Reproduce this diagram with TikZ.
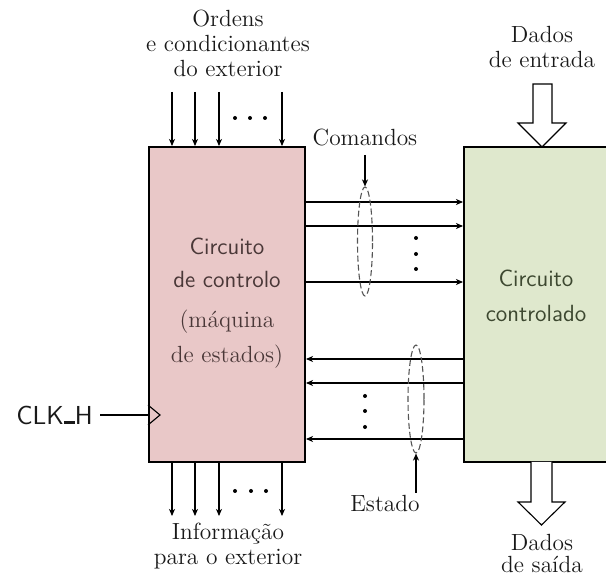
\documentclass[tikz,border=0pt]{standalone}
\usetikzlibrary{arrows.meta,shapes.geometric}
\definecolor{ctlfill}{HTML}{E9C8C8}
\definecolor{datfill}{HTML}{DFE8CD}
\definecolor{ctltext}{HTML}{4A3838}
\definecolor{dattext}{HTML}{3D4830}
\definecolor{ringgray}{HTML}{555555}
\begin{document}
\begin{tikzpicture}[x=0.5pt,y=-0.5pt,
  lbl/.style={anchor=base,inner sep=0pt,text=black!90,font=\fontsize{11.7}{12.5}\selectfont},
  sflbl/.style={lbl,font=\sffamily\fontsize{11.7}{12.5}\selectfont},
  block/.style={draw,line width=1pt,minimum height=157.5pt,inner sep=0pt},
  sig/.style={line width=0.55pt,-{Stealth[length=3.5pt,width=3pt,inset=1pt]}},
  ring/.style={ellipse,draw=ringgray,dashed,dash pattern=on 3pt off 1.5pt,line width=0.55pt,inner sep=0pt},
  hollow/.style={draw,fill=white,line width=0.55pt,line join=miter},
  dotmark/.style={circle,fill=black,inner sep=0pt,minimum size=2pt}]
\clip (0,0) rectangle (606,577);

% the two blocks
\node[block,fill=ctlfill,minimum width=78pt] (ctl) at (227,304.5) {};
\node[block,fill=datfill,minimum width=72pt] (dat) at (536,304.5) {};

% block texts
\node[sflbl,text=ctltext] (t1) at (227,255) {Circuito};
\node[sflbl,text=ctltext] (t2) at (227,288) {de controlo};
\node[lbl,text=ctltext] (t3) at (227,328) {(máquina};
\node[lbl,text=ctltext] (t4) at (227,363) {de estados)};
\node[sflbl,text=dattext] (t5) at (536,287) {Circuito};
\node[sflbl,text=dattext] (t6) at (536,322) {controlado};

% external orders (top)
\node[lbl] (o1) at (228,27) {Ordens};
\node[lbl] (o2) at (228,52) {e condicionantes};
\node[lbl] (o3) at (228,77) {do exterior};
\foreach \i/\x in {1/172,2/195,3/219,4/282}{
  \coordinate (in\i) at (\x,92);
  \draw[sig] (in\i) -- (in\i |- ctl.north);
}
\foreach \x in {235,250,265} \node[dotmark] at (\x,118) {};

% information to the exterior (bottom)
\foreach \i/\x in {1/172,2/195,3/219,4/282}{
  \coordinate (out\i) at (\x,516);
  \draw[sig] (out\i |- ctl.south) -- (out\i);
}
\foreach \x in {235,251,266} \node[dotmark] at (\x,491) {};
\node[lbl] (i1) at (228,540) {Informação};
\node[lbl] (i2) at (228,565) {para o exterior};

% commands bus
\foreach \i/\y in {1/202,2/226,3/282}{
  \coordinate (c\i) at (ctl.east |- 0,\y);
  \draw[sig] (c\i) -- (c\i -| dat.west);
}
\foreach \y in {238,254,269} \node[dotmark] at (416,\y) {};
\node[ring,minimum width=7.5pt,minimum height=54.5pt] (cring) at (365,241.5) {};
\node[lbl] (cmd) at (365,146) {Comandos};
\draw[sig] (365,155) -- (cring.north);

% status bus
\foreach \i/\y in {1/359,2/383,3/439}{
  \coordinate (s\i) at (dat.west |- 0,\y);
  \draw[sig] (s\i) -- (s\i -| ctl.east);
}
\foreach \y in {396,411,427} \node[dotmark] at (365,\y) {};
\node[ring,minimum width=8pt,minimum height=54pt] (sring) at (416,399) {};
\node[lbl] (st) at (385,512) {Estado};
\draw[sig] (416,493) -- (sring.south);

% clock input
\node[anchor=east,inner sep=0pt,text=black!90,font=\sffamily\fontsize{13}{14}\selectfont] (clk) at (93,415)
  {CLK\rule{0.42em}{0.11em}H};
\draw[line width=0.55pt] ([xshift=3.5pt]clk.east) -- (clk -| ctl.west);
\draw[line width=0.55pt,line join=miter] (ctl.west |- 0,405) -- (160,415) -- (ctl.west |- 0,425);

% data in / data out
\node[lbl] (d1) at (542,43) {Dados};
\node[lbl] (d2) at (542,68) {de entrada};
\draw[hollow] (533,84) -- (552,84) -- (552,123) -- (566,123) -- (542,147) -- (518,123) -- (533,123) -- cycle;
\draw[hollow] (531,462) -- (531,502) -- (518,502) -- (541.5,525) -- (565,502) -- (552,502) -- (552,462);
\node[lbl] (d3) at (542,551) {Dados};
\node[lbl] (d4) at (542,573) {de saída};
\end{tikzpicture}
\end{document}
